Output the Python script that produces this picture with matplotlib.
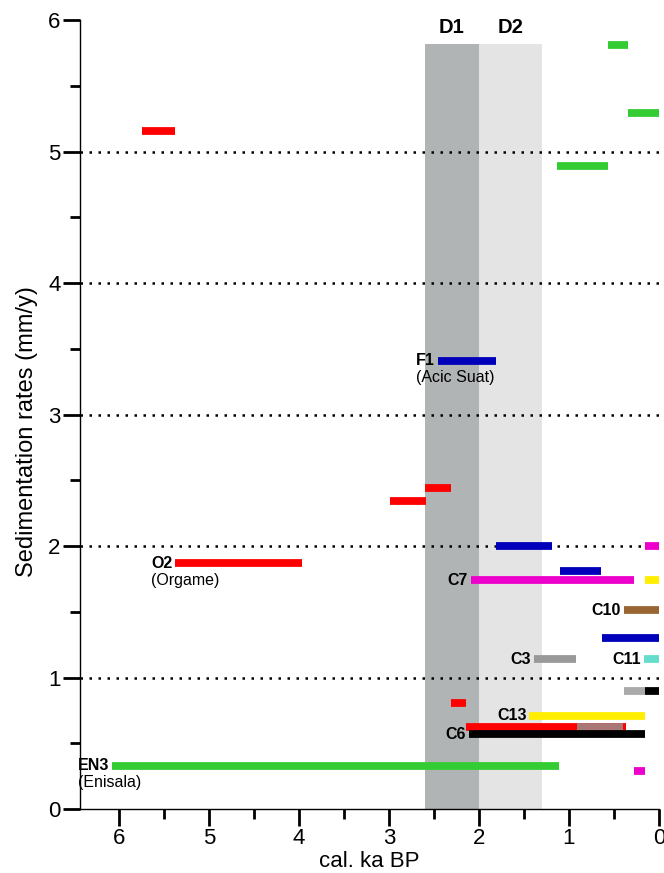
import numpy as np
import matplotlib
matplotlib.use('Agg')
import matplotlib.pyplot as plt

plt.rcParams['font.family'] = ['Liberation Sans', 'DejaVu Sans']

# each record: age start (ka), age end (ka), rate (mm/y), colour
bar_start = [0.57, 0.34, 1.13, 5.74, 2.46, 2.60, 2.99, 5.37, 1.81, 0.16, 1.10, 2.09, 0.16,
             0.39, 0.63, 1.39, 0.17, 0.39, 0.16, 2.31, 1.44, 2.14, 0.91, 2.11, 6.07, 0.28]
bar_end = [0.34, 0.00, 0.57, 5.38, 1.81, 2.31, 2.59, 3.97, 1.19, 0.00, 0.64, 0.28, 0.00,
           0.00, 0.00, 0.92, 0.00, 0.16, 0.00, 2.14, 0.16, 0.37, 0.40, 0.16, 1.11, 0.16]
bar_rate = [5.81, 5.29, 4.89, 5.16, 3.41, 2.44, 2.34, 1.87, 2.00, 2.00, 1.81, 1.74, 1.74,
            1.51, 1.30, 1.14, 1.14, 0.90, 0.90, 0.81, 0.71, 0.62, 0.62, 0.57, 0.33, 0.29]
bar_color = ['#33cc33', '#33cc33', '#33cc33', '#ff0000', '#0000bb', '#ff0000', '#ff0000',
             '#ff0000', '#0000bb', '#ee00cc', '#0000bb', '#ee00cc', '#ffee00', '#996633',
             '#0000bb', '#999999', '#66ddcc', '#aaaaaa', '#000000', '#ff0000', '#ffee00',
             '#ff0000', '#aa7777', '#000000', '#33cc33', '#ee00cc']

# site names -> index of the bar they label
site_names = ['F1', 'O2', 'C7', 'C10', 'C3', 'C11', 'C13', 'C6', 'EN3']
site_bar = [4, 7, 11, 13, 15, 16, 20, 23, 24]
site_sub = {'F1': '(Acic Suat)', 'O2': '(Orgame)', 'EN3': '(Enisala)'}

# dry phases
phase_names = ['D1', 'D2']
phase_from = [2.6, 2.0]
phase_to = [2.0, 1.3]
phase_color = ['#b1b4b4', '#e4e4e4']
phase_top = 5.82

fig = plt.figure(figsize=(6.64, 8.73), dpi=100)
ax = fig.add_axes([0.1205, 0.0733, 0.872, 0.9037])
ax.set_xlim(6.43, 0)
ax.set_ylim(0, 6)

for name, a, b, c in zip(phase_names, phase_from, phase_to, phase_color):
    ax.fill_between([b, a], 0, phase_top, color=c, lw=0, zorder=1)
    ax.text((a + b) / 2, phase_top + 0.05, name, ha='center', va='bottom',
            fontsize=14.5, fontweight='bold')

for yy in [1, 2, 3, 4, 5]:
    ax.axhline(yy, color='black', lw=1.8, linestyle=(0, (1, 2.6)), zorder=2)

ax.hlines(bar_rate, bar_start, bar_end, colors=bar_color, lw=5.6, zorder=3)

fig.canvas.draw()
r = fig.canvas.get_renderer()
for name, i in zip(site_names, site_bar):
    t = ax.annotate(name, (bar_start[i], bar_rate[i]), xytext=(-2, 0), textcoords='offset points',
                    ha='right', va='center', fontsize=11.5, fontweight='bold', zorder=4,
                    annotation_clip=False)
    if name in site_sub:
        t.draw(r)
        bb = t.get_window_extent(r)
        x0 = ax.transData.inverted().transform((bb.x0, bb.y0))[0]
        ax.annotate(site_sub[name], (x0, bar_rate[i]), xytext=(0, -12.5),
                    textcoords='offset points', ha='left', va='center', fontsize=11.5,
                    zorder=4, annotation_clip=False)

ax.set_xticks([6, 5, 4, 3, 2, 1, 0])
ax.set_xticks(np.arange(0.5, 6.5, 1), minor=True)
ax.set_yticks([0, 1, 2, 3, 4, 5, 6])
ax.set_yticks(np.arange(0.5, 6, 1), minor=True)
ax.tick_params(which='major', length=12, width=2, labelsize=16, pad=2)
ax.tick_params(which='minor', length=7, width=2)
ax.spines['top'].set_visible(False)
ax.spines['right'].set_visible(False)
ax.spines['left'].set_linewidth(1)
ax.spines['bottom'].set_linewidth(1)
ax.set_xlabel('cal. ka BP', fontsize=16, labelpad=1)
ax.set_ylabel('Sedimentation rates (mm/y)', fontsize=17)
ax.yaxis.set_label_coords(-0.073, 0.478)

fig.savefig('out.png', dpi=100)
